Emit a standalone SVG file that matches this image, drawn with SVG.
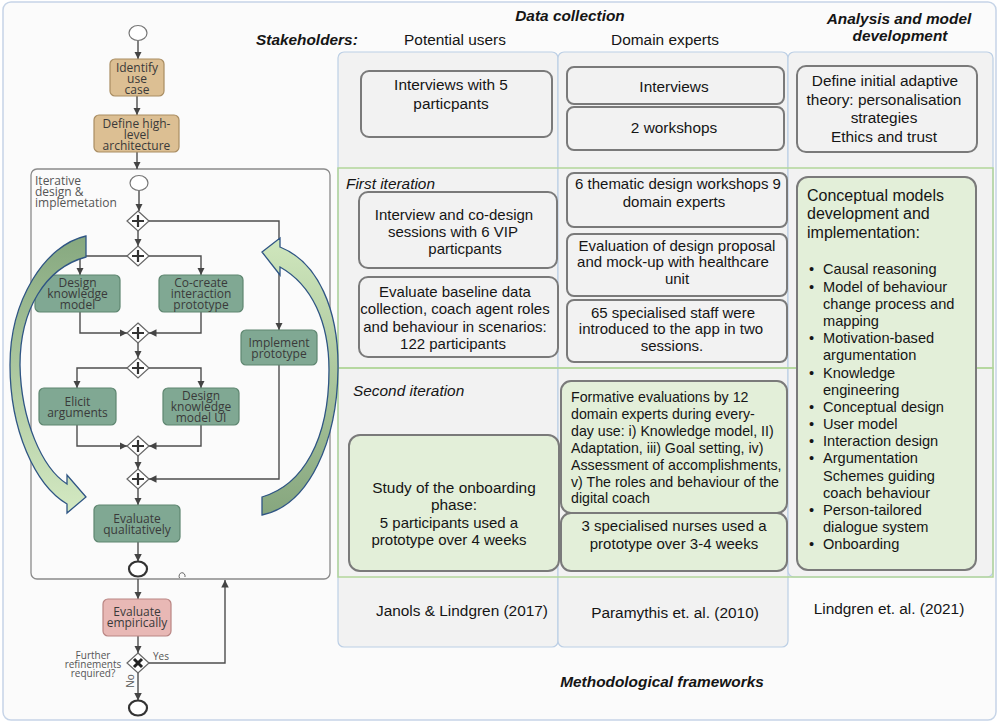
<svg xmlns="http://www.w3.org/2000/svg" width="999" height="724" viewBox="0 0 999 724">
<defs>
<style>
.frame{fill:#fbfbfb;stroke:#c6d4e7;stroke-width:1.5}
.col{fill:#f2f2f2;stroke:#bccfe5;stroke-width:1.2}
.band{fill:none;stroke:#b3d69b;stroke-width:1.5}
.gbox{fill:#f2f2f2;stroke:#7a7a7a;stroke-width:2}
.grbox{fill:#e3efd9;stroke:#7a7a7a;stroke-width:2}
.t{font-family:"Liberation Sans",Arial,sans-serif;font-size:15.4px;fill:#151515}
.c{text-anchor:middle}
.h{font-weight:bold;font-style:italic}
.i{font-style:italic}
.m{font-size:15px}
.s{font-size:14.6px}
.f{font-size:14.2px}
.lt{font-family:"Open Sans",sans-serif;font-size:12px;fill:#3a3a3a;text-anchor:middle}
.lbl{font-family:"Open Sans",sans-serif;font-size:12px;fill:#555}
.sm{font-family:"Open Sans",sans-serif;font-size:10px;fill:#555}
.tan{fill:#dcbf93;stroke:#a98d62;stroke-width:1.2}
.grn{fill:#80a893;stroke:#5e8670;stroke-width:1.2}
.pnk{fill:#e8b8b5;stroke:#b98583;stroke-width:1.2}
.gw{fill:#fff;stroke:#666;stroke-width:1.2}
.pl{stroke:#333;stroke-width:2.2;fill:none}
.ev{fill:#fff;stroke:#777;stroke-width:1.2}
.ee{fill:#fff;stroke:#333;stroke-width:2.2}
.cn{fill:none;stroke:#4d4d4d;stroke-width:1.4;marker-end:url(#ah)}
.cnt{fill:#fbfbfb;stroke:#8a8a8a;stroke-width:1.3}
.carrow{stroke:#2f5584;stroke-width:1.3}
</style>
<marker id="ah" viewBox="0 0 10 10" refX="10" refY="5" markerWidth="7.5" markerHeight="7.5" orient="auto" markerUnits="userSpaceOnUse">
<path d="M0,0 L10,5 L0,10 z" fill="#444"/>
</marker>
<linearGradient id="gl" x1="0" y1="0" x2="0" y2="1">
<stop offset="0" stop-color="#86a87f"/>
<stop offset="1" stop-color="#d4e9c2"/>
</linearGradient>
<linearGradient id="gr" x1="0" y1="0" x2="0" y2="1">
<stop offset="0" stop-color="#d0e7bd"/>
<stop offset="1" stop-color="#86a67e"/>
</linearGradient>
</defs>

<rect class="frame" x="3" y="2" width="993" height="718" rx="8"/>

<g id="columns">
<rect class="col" x="338" y="52" width="220" height="595" rx="6"/>
<rect class="col" x="558" y="52" width="230" height="595" rx="6"/>
<rect class="col" x="788" y="52" width="205" height="525" rx="6"/>
</g>
<g id="rows">
<rect class="band" x="338" y="168" width="655" height="200"/>
<rect class="band" x="338" y="368" width="655" height="209"/>
</g>

<g id="headers">
<text class="t h c" x="570" y="21">Data collection</text>
<text class="t h c" x="899" y="24">Analysis and model</text>
<text class="t h c" x="900" y="41">development</text>
<text class="t h" x="256" y="45">Stakeholders:</text>
<text class="t c" x="455" y="45">Potential users</text>
<text class="t c" x="665" y="45">Domain experts</text>
<text class="t i" x="346" y="189">First iteration</text>
<text class="t i" x="353" y="396">Second iteration</text>
<text class="t h c" x="662" y="687">Methodological frameworks</text>
</g>

<g id="pu-interviews">
<rect class="gbox" x="361" y="71" width="191" height="66" rx="8"/>
<text class="t c" x="451" y="89.5">Interviews with 5</text>
<text class="t c" x="451" y="108.5">particpants</text>
</g>
<g id="de-interviews">
<rect class="gbox" x="567" y="67" width="217" height="37" rx="7"/>
<text class="t c" x="674" y="91.5">Interviews</text>
</g>
<g id="de-workshops">
<rect class="gbox" x="567" y="107" width="217" height="43" rx="7"/>
<text class="t c" x="674" y="132.5">2 workshops</text>
</g>
<g id="am-theory">
<rect class="gbox" x="797" y="66" width="180" height="86" rx="9"/>
<text class="t c" x="885" y="86">Define initial adaptive</text>
<text class="t c" x="884" y="104.5">theory: personalisation</text>
<text class="t c" x="884" y="123">strategies</text>
<text class="t c" x="884" y="141.5">Ethics and trust</text>
</g>

<g id="pu-codesign">
<rect class="gbox" x="359" y="192" width="198" height="76" rx="9"/>
<text class="t m c" x="454" y="219.5">Interview and co-design</text>
<text class="t m c" x="453" y="237">sessions with 6 VIP</text>
<text class="t m c" x="465" y="254">particpants</text>
</g>
<g id="pu-baseline">
<rect class="gbox" x="359" y="277" width="199" height="80" rx="9"/>
<text class="t m c" x="455" y="296.5">Evaluate baseline data</text>
<text class="t m c" x="455" y="314">collection, coach agent roles</text>
<text class="t m c" x="455" y="331.5">and behaviour in scenarios:</text>
<text class="t m c" x="453" y="349">122 participants</text>
</g>
<g id="de-thematic">
<rect class="gbox" x="567" y="173" width="220" height="54" rx="7"/>
<text class="t m c" x="678" y="189">6 thematic design workshops 9</text>
<text class="t m c" x="674" y="207">domain experts</text>
</g>
<g id="de-evaluation">
<rect class="gbox" x="567" y="234" width="220" height="62" rx="7"/>
<text class="t m c" x="677" y="250.5">Evaluation of design proposal</text>
<text class="t m c" x="673" y="267">and mock-up with healthcare</text>
<text class="t m c" x="677" y="284">unit</text>
</g>
<g id="de-staff">
<rect class="gbox" x="567" y="300" width="220" height="62" rx="7"/>
<text class="t m c" x="673" y="317.5">65 specialised staff were</text>
<text class="t m c" x="671" y="334">introduced to the app in two</text>
<text class="t m c" x="672" y="351">sessions.</text>
</g>

<g id="am-conceptual">
<rect class="grbox" x="797" y="177" width="179" height="393" rx="11"/>
<text class="t" x="807" y="200.5" style="font-size:16px">Conceptual models</text>
<text class="t" x="807" y="219" style="font-size:16px">development and</text>
<text class="t" x="807" y="237.5" style="font-size:16px">implementation:</text>
<g class="t s">
<text x="809" y="274.3">•</text><text x="823" y="274.3">Causal reasoning</text>
<text x="809" y="292.3">•</text><text x="823" y="292.3">Model of behaviour</text>
<text x="823" y="308.8">change process and</text>
<text x="823" y="326.3">mapping</text>
<text x="809" y="343.3">•</text><text x="823" y="343.3">Motivation-based</text>
<text x="823" y="360.3">argumentation</text>
<text x="809" y="378.3">•</text><text x="823" y="378.3">Knowledge</text>
<text x="823" y="395.3">engineering</text>
<text x="809" y="412.3">•</text><text x="823" y="412.3">Conceptual design</text>
<text x="809" y="429.3">•</text><text x="823" y="429.3">User model</text>
<text x="809" y="446.3">•</text><text x="823" y="446.3">Interaction design</text>
<text x="809" y="463.3">•</text><text x="823" y="463.3">Argumentation</text>
<text x="823" y="481.3">Schemes guiding</text>
<text x="823" y="498.3">coach behaviour</text>
<text x="809" y="515.3">•</text><text x="823" y="515.3">Person-tailored</text>
<text x="823" y="532.3">dialogue system</text>
<text x="809" y="549.3">•</text><text x="823" y="549.3">Onboarding</text>
</g>
</g>

<g id="pu-onboarding">
<rect class="grbox" x="349" y="435" width="210" height="136" rx="11"/>
<text class="t c" x="454" y="492.5">Study of the onboarding</text>
<text class="t c" x="454" y="509.5">phase:</text>
<text class="t m c" x="449" y="528">5 participants used a</text>
<text class="t m c" x="449" y="545">prototype over 4 weeks</text>
</g>
<g id="de-formative">
<rect class="grbox" x="561" y="381" width="226" height="132" rx="10"/>
<g class="t f">
<text x="571" y="401.5">Formative evaluations by 12</text>
<text x="571" y="418.5">domain experts during every-</text>
<text x="571" y="435.5">day use: i) Knowledge model, II)</text>
<text x="571" y="452.5">Adaptation, iii) Goal setting, iv)</text>
<text x="571" y="469.5">Assessment of accomplishments,</text>
<text x="571" y="486.5">v) The roles and behaviour of the</text>
<text x="571" y="503">digital coach</text>
</g>
</g>
<g id="de-nurses">
<rect class="grbox" x="561" y="513" width="226" height="58" rx="10"/>
<text class="t m c" x="674" y="530.5">3 specialised nurses used a</text>
<text class="t m c" x="674" y="548.5">prototype over 3-4 weeks</text>
</g>

<g id="frameworks">
<text class="t c" x="462" y="615.5">Janols &amp; Lindgren (2017)</text>
<text class="t c" x="675" y="617.5">Paramythis et. al.  (2010)</text>
<text class="t c" x="889" y="613.5">Lindgren et. al. (2021)</text>
</g>

<g id="iterative-container">
<rect class="cnt" x="31" y="169" width="299" height="410" rx="6"/>
<text class="lbl" x="35" y="185">Iterative</text>
<text class="lbl" x="35" y="196">design &amp;</text>
<text class="lbl" x="35" y="207">implemetation</text>
<path d="M179.5 578 A3 3.5 0 1 1 185 577" fill="none" stroke="#666" stroke-width="1"/>
</g>

<g id="connectors">
<path class="cn" d="M138 40.5 V59"/>
<path class="cn" d="M137 96 V115"/>
<path class="cn" d="M137 152 V169"/>
<path class="cn" d="M139 190.5 V211"/>
<path class="cn" d="M149 221 H279 V330"/>
<path class="cn" d="M138 231 V246"/>
<path class="cn" d="M127 256 H80 V275"/>
<path class="cn" d="M149 256 H201 V275"/>
<path class="cn" d="M80 312 V333 H127"/>
<path class="cn" d="M201 312 V333 H149"/>
<path class="cn" d="M138 343 V358"/>
<path class="cn" d="M127 368 H77 V388"/>
<path class="cn" d="M149 368 H201 V388"/>
<path class="cn" d="M77 425 V446 H127"/>
<path class="cn" d="M201 425 V446 H149"/>
<path class="cn" d="M138 456 V469"/>
<path class="cn" d="M279 365 V479 H149"/>
<path class="cn" d="M138 489 V505"/>
<path class="cn" d="M138 542 V561.5"/>
<path class="cn" d="M138 579 V599"/>
<path class="cn" d="M138 636 V653"/>
<path class="cn" d="M149 663 H225 V580"/>
<path class="cn" d="M138 673 V700.5"/>
<text class="sm" x="153" y="660">Yes</text>
<text class="sm" text-anchor="middle" transform="translate(133.5,681) rotate(-90)">No</text>
<text class="sm" text-anchor="middle" x="93" y="658.5">Further</text>
<text class="sm" text-anchor="middle" x="93" y="667.5">refinements</text>
<text class="sm" text-anchor="middle" x="93" y="676.5">required?</text>
</g>

<g id="start"><ellipse class="ev" cx="138" cy="33" rx="9" ry="7.5"/></g>
<g id="identify">
<rect class="tan" x="110" y="59" width="54" height="37" rx="5"/>
<text class="lt" x="137" y="71.5">Identify</text>
<text class="lt" x="137" y="83">use</text>
<text class="lt" x="137" y="94">case</text>
</g>
<g id="define">
<rect class="tan" x="94" y="115" width="85" height="37" rx="5"/>
<text class="lt" x="136.5" y="127.5">Define high-</text>
<text class="lt" x="136.5" y="138.5">level</text>
<text class="lt" x="136.5" y="149.5">architecture</text>
</g>
<g id="inner-start"><ellipse class="ev" cx="139" cy="183" rx="9" ry="7.5"/></g>
<g id="gw1"><polygon class="gw" points="138,211 149,221 138,231 127,221"/><path class="pl" d="M132 221 H144 M138 215 V227"/></g>
<g id="gw2"><polygon class="gw" points="138,246 149,256 138,266 127,256"/><path class="pl" d="M132 256 H144 M138 250 V262"/></g>
<g id="design-km">
<rect class="grn" x="35" y="275" width="85" height="37" rx="5"/>
<text class="lt" x="77.5" y="287">Design</text>
<text class="lt" x="77.5" y="298">knowledge</text>
<text class="lt" x="77.5" y="309">model</text>
</g>
<g id="cocreate">
<rect class="grn" x="159" y="275" width="84" height="37" rx="5"/>
<text class="lt" x="201" y="287">Co-create</text>
<text class="lt" x="201" y="298">interaction</text>
<text class="lt" x="201" y="309">prototype</text>
</g>
<g id="gw3"><polygon class="gw" points="138,323 149,333 138,343 127,333"/><path class="pl" d="M132 333 H144 M138 327 V339"/></g>
<g id="implement">
<rect class="grn" x="241" y="330" width="76" height="35" rx="5"/>
<text class="lt" x="279" y="346.5">Implement</text>
<text class="lt" x="279" y="357.5">prototype</text>
</g>
<g id="gw4"><polygon class="gw" points="138,358 149,368 138,378 127,368"/><path class="pl" d="M132 368 H144 M138 362 V374"/></g>
<g id="elicit">
<rect class="grn" x="39" y="388" width="77" height="37" rx="5"/>
<text class="lt" x="77.5" y="406">Elicit</text>
<text class="lt" x="77.5" y="417">arguments</text>
</g>
<g id="design-ui">
<rect class="grn" x="163" y="388" width="76" height="37" rx="5"/>
<text class="lt" x="201" y="400">Design</text>
<text class="lt" x="201" y="411">knowledge</text>
<text class="lt" x="201" y="422">model UI</text>
</g>
<g id="gw5"><polygon class="gw" points="138,436 149,446 138,456 127,446"/><path class="pl" d="M132 446 H144 M138 440 V452"/></g>
<g id="gw6"><polygon class="gw" points="138,469 149,479 138,489 127,479"/><path class="pl" d="M132 479 H144 M138 473 V485"/></g>
<g id="eval-qual">
<rect class="grn" x="94" y="505" width="86" height="37" rx="5"/>
<text class="lt" x="137" y="523">Evaluate</text>
<text class="lt" x="137" y="534">qualitatively</text>
</g>
<g id="inner-end"><ellipse class="ee" cx="138" cy="569" rx="9" ry="7.5"/></g>
<g id="eval-emp">
<rect class="pnk" x="103" y="599" width="68" height="37" rx="5"/>
<text class="lt" x="137" y="616">Evaluate</text>
<text class="lt" x="137" y="627">empirically</text>
</g>
<g id="xor"><polygon class="gw" points="138,653 149,663 138,673 127,663"/><path d="M134 659 L142 667 M142 659 L134 667" stroke="#222" stroke-width="3"/></g>
<g id="end"><ellipse class="ee" cx="138" cy="708" rx="9" ry="7.5"/></g>

<g id="cycle-arrows">
<path class="carrow" fill="url(#gl)" d="M86 236 C45 245 10 300 10 365 C10 430 35 485 67 504 L67 513 L86 497 L67 475 L67 484 C42 468 21 420 20 365 C20 310 45 268 86 257 Z"/>
<path class="carrow" fill="url(#gr)" d="M262 252 L280 238 L280 247 C318 262 339 310 338 370 C337 440 310 505 262 515 L262 497 C303 485 329 440 329 370 C329 322 312 285 280 267 L280 275 Z"/>
</g>
</svg>
